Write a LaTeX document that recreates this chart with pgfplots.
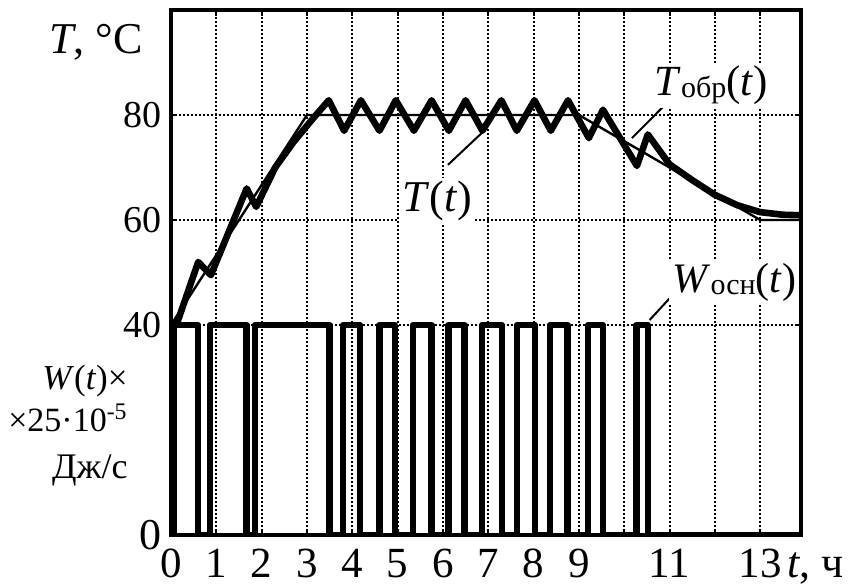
\documentclass[border=0pt]{standalone}
\usepackage{pgfplots}
\pgfplotsset{compat=1.18}
\usepackage{fontspec}
\setmainfont{Liberation Serif}
\begin{document}
\begin{tikzpicture}
\useasboundingbox (-85.5bp,-24.5bp) rectangle (338.5bp,267.5bp);
\begin{axis}[
  at={(0,0)}, anchor=south west,
  scale only axis, width=315bp, height=262.5bp,
  xmin=0, xmax=13.9, ymin=0, ymax=100,
  xtick={0,...,13},
  xticklabels={0,1,2,3,4,5,6,7,8,9,,11,,13},
  ytick={0,40,60,80},
  yticklabels={{\fontsize{22bp}{24bp}\selectfont 0},40,60,80},
  grid=major,
  major grid style={black, line width=1bp, dash pattern=on 0.9bp off 1.1bp},
  tick align=inside,
  major tick length=3bp,
  every tick/.style={black, line width=1bp},
  axis line style={line width=2bp},
  xticklabel style={font=\fontsize{21.5bp}{23bp}\selectfont, anchor=base, inner sep=0pt, yshift=-21bp},
  yticklabel style={font=\fontsize{19bp}{21bp}\selectfont, anchor=east, inner sep=0pt, xshift=-4.5bp},
]
% W(t) pulses
\addplot[black, line width=3.2bp, line join=round] coordinates {
(0,0)(0.07,0)(0.07,40)(0.6,40)(0.6,0)(0.86,0)(0.86,40)(1.67,40)(1.67,0)(1.85,0)(1.85,40)
(3.5,40)(3.5,0)(3.8,0)(3.8,40)(4.17,40)(4.17,0)(4.6,0)(4.6,40)(4.94,40)(4.94,0)
(5.34,0)(5.34,40)(5.75,40)(5.75,0)(6.12,0)(6.12,40)(6.48,40)(6.48,0)(6.86,0)(6.86,40)
(7.3,40)(7.3,0)(7.63,0)(7.63,40)(8.03,40)(8.03,0)(8.36,0)(8.36,40)(8.75,40)(8.75,0)
(9.2,0)(9.2,40)(9.53,40)(9.53,0)(10.27,0)(10.27,40)(10.52,40)(10.52,0)(13.9,0)};
% T_obr(t) reference
\addplot[black, line width=1.2bp, line join=round] coordinates {
(0,40)(3,80)(9,80)(13,60)(13.9,60)};
% T(t)
\addplot[black, line width=3.3bp, line join=round] coordinates {
(0.12,40)(0.6,52)(0.88,49.5)(1.67,66)(1.88,62.5)(2.3,70)(2.7,74.8)(3.1,79)(3.48,82.8)
(3.82,77)(4.19,82.8)(4.6,77)(4.96,82.8)(5.36,77)(5.75,82.8)(6.13,77)(6.5,82.8)
(6.87,77)(7.29,82.8)(7.63,77)(8.02,82.8)(8.38,77)(8.76,82.8)(9.22,75.6)(9.53,81)
(10.28,70.3)(10.52,76.3)(11,70.6)(11.5,67.6)(12,64.8)(12.5,62.8)(13,61.5)(13.5,61)(13.9,60.9)};
% leaders
\draw[line width=1bp] (axis cs:6.11,70.5) -- (axis cs:6.86,76.6);
\draw[line width=1bp] (axis cs:10.17,75.6) -- (axis cs:10.85,81.5);
\draw[line width=1bp] (axis cs:10.56,40.95) -- (axis cs:11.11,46.1);
% labels
\node[fill=white, inner sep=1.5bp, font=\fontsize{22bp}{24bp}\selectfont] at (axis cs:5.87,63.6) {\textit{T}(\textit{t})};
\node[fill=white, inner sep=1.5bp, font=\fontsize{21.5bp}{24bp}\selectfont] at (axis cs:11.92,85.7) {\textit{T}\raisebox{-1bp}{\fontsize{15bp}{16bp}\selectfont обр}(\textit{t})};
\node[fill=white, inner sep=1.5bp, font=\fontsize{21bp}{24bp}\selectfont] at (axis cs:12.43,48.2) {\textit{W}\raisebox{-1bp}{\fontsize{15bp}{16bp}\selectfont осн}(\textit{t})};
\end{axis}
\node[anchor=base east, inner sep=0pt, font=\fontsize{22bp}{24bp}\selectfont] at (-14bp,240.5bp) {\textit{T}, °C};
\node[anchor=base east, inner sep=0pt, font=\fontsize{17.5bp}{19bp}\selectfont] at (-21.5bp,72.5bp) {\textit{W}(\textit{t})×};
\node[anchor=base east, inner sep=0pt, font=\fontsize{17bp}{19bp}\selectfont] at (-21.5bp,51.5bp) {×25·10\textsuperscript{-5}};
\node[anchor=base east, inner sep=0pt, font=\fontsize{18bp}{19bp}\selectfont] at (-21.5bp,28.5bp) {Дж/с};
\node[anchor=base west, inner sep=0pt, font=\fontsize{22bp}{24bp}\selectfont] at (308bp,-21bp) {\textit{t}, ч};
\end{tikzpicture}
\end{document}
